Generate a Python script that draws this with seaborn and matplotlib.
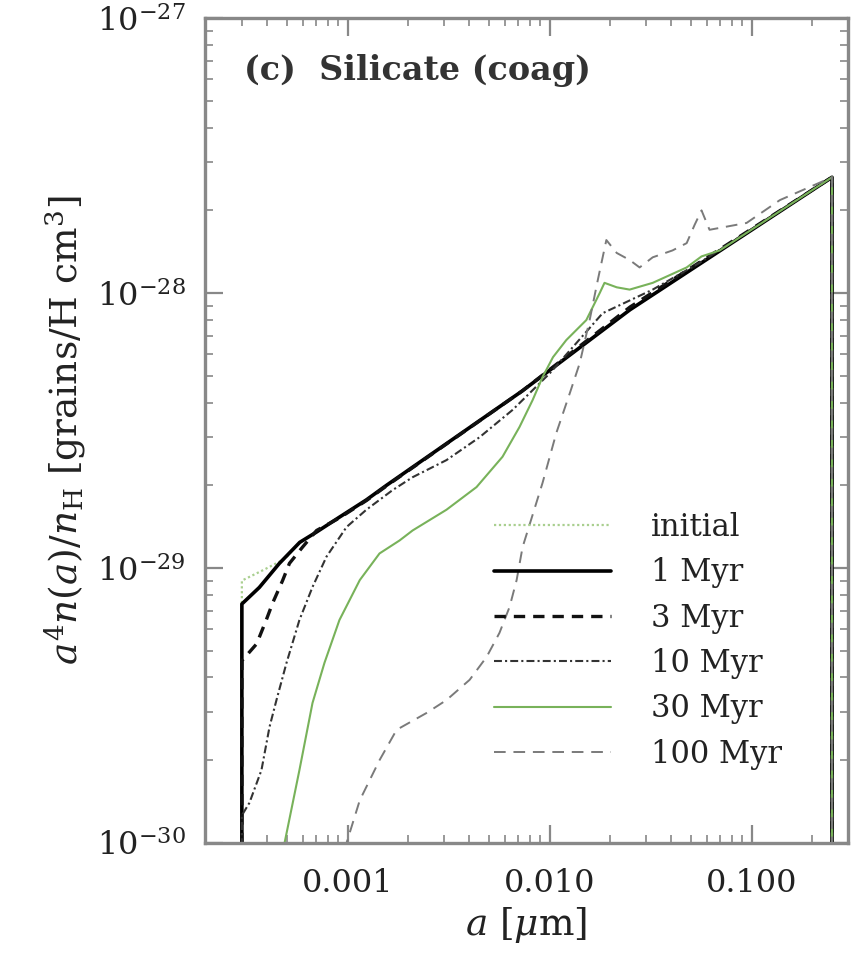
import numpy as np
import pandas as pd
import matplotlib
matplotlib.use("Agg")
import matplotlib.pyplot as plt
import seaborn as sns
from matplotlib.ticker import LogLocator, FixedLocator, NullFormatter

# ---------------------- data -------------------------------------------
# grain radius a [um] and a^4 n(a)/n_H [grains/H cm^3]
a_init = [3.0e-4, 3.0e-4, 3.9e-4, 4.9e-4, 5.8e-4, 7.0e-4, 9.1e-4, 1.24e-3,
          1.56e-3, 7.3e-3, 2.5e-2, 0.25, 0.25]
y_init = [1e-31, 9.0e-30, 9.9e-30, 1.08e-29, 1.24e-29, 1.35e-29, 1.53e-29,
          1.77e-29, 2.0e-29, 4.4e-29, 8.7e-29, 2.64e-28, 1e-31]

a_1myr = [3.0e-4, 3.0e-4, 3.66e-4, 4.6e-4, 5.8e-4, 7.0e-4, 9.1e-4, 1.24e-3,
          1.56e-3, 7.3e-3, 2.5e-2, 0.25, 0.25]
y_1myr = [1e-31, 7.4e-30, 8.5e-30, 1.04e-29, 1.24e-29, 1.35e-29, 1.53e-29,
          1.77e-29, 2.0e-29, 4.4e-29, 8.7e-29, 2.64e-28, 1e-31]

a_3myr = [3.0e-4, 3.0e-4, 3.55e-4, 3.97e-4, 4.26e-4, 4.77e-4, 5.16e-4,
          5.98e-4, 7.03e-4, 9.1e-4, 1.24e-3, 1.56e-3, 7.3e-3, 2.5e-2,
          0.25, 0.25]
y_3myr = [1e-31, 4.6e-30, 5.3e-30, 6.5e-30, 7.46e-30, 9.0e-30, 1.04e-29,
          1.19e-29, 1.37e-29, 1.52e-29, 1.76e-29, 1.99e-29, 4.4e-29, 8.9e-29,
          2.64e-28, 1e-31]

a_10myr = [3.0e-4, 3.0e-4, 3.27e-4, 3.75e-4, 4.11e-4, 4.45e-4, 4.99e-4,
           5.78e-4, 6.71e-4, 7.87e-4, 9.89e-4, 1.24e-3, 1.67e-3, 2.1e-3,
           3.09e-3, 4.5e-3, 6.56e-3, 1.0e-2, 1.83e-2, 3.24e-2, 5.53e-2,
           0.25, 0.25]
y_10myr = [1e-31, 1.26e-30, 1.40e-30, 1.84e-30, 2.64e-30, 3.31e-30,
           4.52e-30, 6.47e-30, 8.53e-30, 1.10e-29, 1.41e-29, 1.63e-29,
           1.92e-29, 2.14e-29, 2.47e-29, 2.99e-29, 3.76e-29, 5.1e-29,
           8.45e-29, 1.03e-28, 1.29e-28, 2.64e-28, 1e-31]

a_30myr = [4.65e-4, 4.88e-4, 5.78e-4, 6.71e-4, 7.69e-4, 9.12e-4, 1.15e-3,
           1.44e-3, 1.81e-3, 2.1e-3, 3.09e-3, 4.35e-3, 5.85e-3, 7.1e-3,
           8.24e-3, 9.23e-3, 1.04e-2, 1.21e-2, 1.52e-2, 1.77e-2, 1.87e-2,
           2.15e-2, 2.49e-2, 3.24e-2, 4.77e-2, 5.65e-2, 6.95e-2, 0.25, 0.25]
y_30myr = [8.0e-31, 1.0e-30, 1.84e-30, 3.23e-30, 4.52e-30, 6.47e-30,
           9.04e-30, 1.13e-29, 1.26e-29, 1.37e-29, 1.63e-29, 1.97e-29,
           2.54e-29, 3.26e-29, 4.08e-29, 4.95e-29, 5.85e-29, 6.75e-29,
           7.98e-29, 1.0e-28, 1.09e-28, 1.05e-28, 1.03e-28, 1.09e-28,
           1.24e-28, 1.36e-28, 1.43e-28, 2.64e-28, 1e-31]

a_100myr = [9.1e-4, 9.89e-4, 1.15e-3, 1.44e-3, 1.75e-3, 2.46e-3, 3.09e-3,
            4.02e-3, 4.88e-3, 5.65e-3, 6.34e-3, 6.87e-3, 7.35e-3, 9.23e-3,
            1.08e-2, 1.26e-2, 1.41e-2, 1.58e-2, 1.73e-2, 1.91e-2, 2.15e-2,
            2.49e-2, 2.79e-2, 3.24e-2, 4.06e-2, 4.77e-2, 5.22e-2, 5.65e-2,
            6.19e-2, 9.44e-2, 0.138, 0.25, 0.25]
y_100myr = [8.0e-31, 1.0e-30, 1.43e-30, 2.0e-30, 2.58e-30, 2.97e-30,
            3.31e-30, 3.92e-30, 4.75e-30, 5.81e-30, 7.22e-30, 9.04e-30,
            1.19e-29, 2.04e-29, 3.10e-29, 4.33e-29, 5.56e-29, 8.0e-29,
            1.11e-28, 1.56e-28, 1.40e-28, 1.32e-28, 1.24e-28, 1.35e-28,
            1.43e-28, 1.52e-28, 1.77e-28, 2.0e-28, 1.70e-28, 1.80e-28,
            2.18e-28, 2.64e-28, 1e-31]

labels = ["initial", "1 Myr", "3 Myr", "10 Myr", "30 Myr", "100 Myr"]
x_ticks = [0.001, 0.01, 0.1]
x_tick_labels = ["0.001", "0.010", "0.100"]
y_ticks = [1e-30, 1e-29, 1e-28, 1e-27]
y_tick_labels = [r"$10^{-30}$", r"$10^{-29}$", r"$10^{-28}$", r"$10^{-27}$"]

curves = [
    (a_init, y_init, dict(color="#a9cf8f", lw=1.6, ls=(0, (1, 1.2)))),
    (a_1myr, y_1myr, dict(color="black", lw=2.6, ls="-")),
    (a_3myr, y_3myr, dict(color="#111111", lw=2.4, ls=(0, (3.4, 2.4)))),
    (a_10myr, y_10myr, dict(color="#333333", lw=1.5, ls=(0, (3.8, 1.5, 1, 1.5)))),
    (a_30myr, y_30myr, dict(color="#78b25a", lw=1.5, ls="-")),
    (a_100myr, y_100myr, dict(color="#7a7a7a", lw=1.4, ls=(0, (6, 4)))),
]

# ---------------------------- plot setup ------------------------------
sns.set_theme(style="ticks")
plt.rcParams["font.family"] = ["DejaVu Serif"]
plt.rcParams["mathtext.fontset"] = "dejavuserif"

fig = plt.figure(figsize=(8.54, 9.59), dpi=100)
ax = fig.add_axes([0.240, 0.121, 0.753, 0.860])

for (xs, ys, style), label in zip(curves, labels):
    df = pd.DataFrame({"a": xs, "y": ys})
    sns.lineplot(data=df, x="a", y="y", ax=ax, sort=False, estimator=None,
                 color=style["color"], linewidth=style["lw"],
                 linestyle=style["ls"], label=label)

ax.set_xscale("log")
ax.set_yscale("log")
ax.set_xlim(1.97e-4, 0.3)
ax.set_ylim(1e-30, 1e-27)

# axes / ticks
frame_col = "#888888"
for sp in ax.spines.values():
    sp.set_color(frame_col)
    sp.set_linewidth(2.4)

ax.xaxis.set_major_locator(FixedLocator(x_ticks))
ax.set_xticklabels(x_tick_labels)
ax.xaxis.set_minor_locator(LogLocator(base=10, subs=np.arange(2, 10)))
ax.xaxis.set_minor_formatter(NullFormatter())
ax.yaxis.set_major_locator(FixedLocator(y_ticks))
ax.set_yticklabels(y_tick_labels)
ax.yaxis.set_minor_locator(LogLocator(base=10, subs=np.arange(2, 10)))
ax.yaxis.set_minor_formatter(NullFormatter())

ax.tick_params(which="both", direction="in", top=True, right=True,
               color=frame_col, labelsize=23, labelcolor="#222222")
ax.tick_params(which="major", length=13, width=1.6, pad=14)
ax.tick_params(axis="x", which="major", pad=18)
ax.tick_params(which="minor", length=6, width=1.2)

# titles
ax.text(0.06, 0.937, "(c)  Silicate (coag)", transform=ax.transAxes,
        fontsize=24, fontweight="bold", color="#333333", va="center")

ax.set_xlabel(r"$a$ [$\mu$m]", fontsize=27, color="#222222", labelpad=4)
ax.set_ylabel(r"$a^4n(a)/n_{\rm H}$ [grains/H cm$^3$]", fontsize=27,
              color="#222222", labelpad=6)

# legend
leg = ax.legend(loc="upper left", bbox_to_anchor=(0.425, 0.42), frameon=False,
                fontsize=22, handlelength=3.85, handletextpad=1.3,
                labelspacing=0.47, borderpad=0)
for t in leg.get_texts():
    t.set_color("#222222")

fig.savefig("out.png", dpi=100)
